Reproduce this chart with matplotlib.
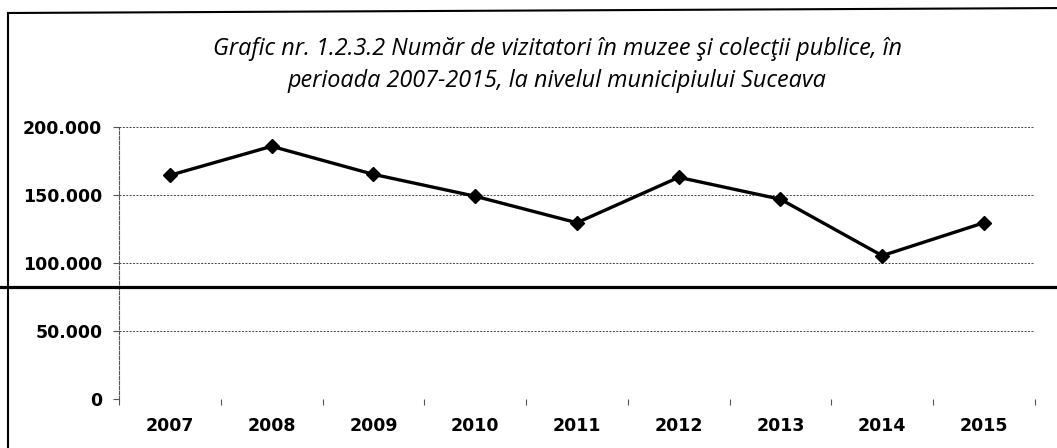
import matplotlib
matplotlib.use("Agg")
import matplotlib.pyplot as plt
from matplotlib.lines import Line2D
from matplotlib.ticker import FuncFormatter, MultipleLocator

years = ["2007", "2008", "2009", "2010", "2011", "2012", "2013", "2014", "2015"]
visitors = [164500, 185800, 165200, 149100, 129600, 163000, 146900, 105400, 129600]

title = ("Grafic nr. 1.2.3.2 Număr de vizitatori în muzee şi colecţii publice, în\n"
         "perioada 2007-2015, la nivelul municipiului Suceava")

fig = plt.figure(figsize=(10.57, 4.48), dpi=100)
ax = fig.add_axes([0.1126, 0.1094, 0.979 - 0.1126, 0.7165 - 0.1094])

x = list(range(len(years)))
ax.plot(x, visitors, color="black", linewidth=2.4, marker="D", markersize=7.5,
        markerfacecolor="black", markeredgecolor="black")

ax.set_xlim(-0.5, len(years) - 0.5)
ax.set_ylim(0, 200000)
ax.yaxis.set_major_locator(MultipleLocator(50000))
ax.yaxis.set_major_formatter(FuncFormatter(lambda v, p: f"{int(v):,}".replace(",", ".")))
ax.set_xticks(x)
ax.set_xticklabels(years)
ax.set_xticks([i - 0.5 for i in range(len(years) + 1)], minor=True)
ax.tick_params(axis="x", which="major", length=0, pad=13, labelsize=12.5)
ax.tick_params(axis="x", which="minor", length=4, width=0.8, color="#555555")
ax.tick_params(axis="y", length=4, width=0.8, color="#555555", labelsize=12.5, pad=8)
for lab in ax.get_xticklabels() + ax.get_yticklabels():
    lab.set_fontweight("semibold")

ax.grid(axis="y", linestyle=(0, (2, 1.5)), color="#444444", linewidth=0.7)
for side in ["top", "right"]:
    ax.spines[side].set_visible(False)
ax.spines["bottom"].set_visible(False)
ax.spines["left"].set_linestyle((0, (3, 1.5)))
ax.spines["left"].set_color("#555555")
ax.spines["left"].set_linewidth(0.8)

fig.text(0.527, 0.855, title, ha="center", va="center", fontsize=16.8,
         style="italic", family="Open Sans", linespacing=1.4)

# frame lines of the scanned page
fig.add_artist(Line2D([0.0076, 0.0076], [0.0, 0.971], color="black", linewidth=1.5,
                      transform=fig.transFigure))
fig.add_artist(Line2D([0.0076, 1.0], [0.971, 0.982], color="black", linewidth=1.5,
                      transform=fig.transFigure))
fig.add_artist(Line2D([0.0, 1.0], [0.3594, 0.3594], color="black", linewidth=2.3,
                      transform=fig.transFigure))

fig.savefig("out.png", dpi=100)
